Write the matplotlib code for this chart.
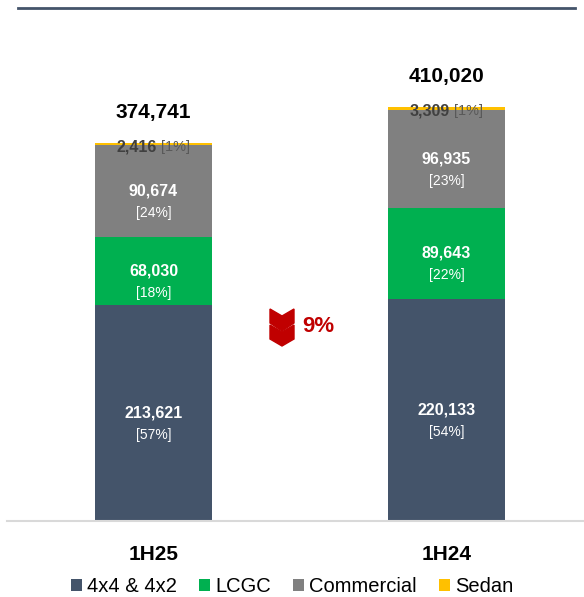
import matplotlib.pyplot as plt
from matplotlib.patches import Polygon
from matplotlib.lines import Line2D

plt.rcParams['font.family'] = ['Liberation Sans', 'DejaVu Sans']

periods = ['1H25', '1H24']
segments = ['4x4 & 4x2', 'LCGC', 'Commercial', 'Sedan']
values = {
    '4x4 & 4x2': [213621, 220133],
    'LCGC': [68030, 89643],
    'Commercial': [90674, 96935],
    'Sedan': [2416, 3309],
}
shares = {
    '4x4 & 4x2': ['[57%]', '[54%]'],
    'LCGC': ['[18%]', '[22%]'],
    'Commercial': ['[24%]', '[23%]'],
    'Sedan': ['[1%]', '[1%]'],
}
totals = [374741, 410020]
change_label = '9%'

colors = {'4x4 & 4x2': '#44546A', 'LCGC': '#00B050',
          'Commercial': '#808080', 'Sedan': '#FFC000'}

W, H = 584, 597
fig = plt.figure(figsize=(W / 100, H / 100), dpi=100)
ax = fig.add_axes([7 / W, (H - 521) / H, 1 - 7 / W, 513 / H])

x = [0, 1]
bottoms = [0, 0]
for seg in segments:
    ax.bar(x, values[seg], width=0.4, bottom=bottoms, color=colors[seg],
           edgecolor='none', label=seg, zorder=2)
    for i in x:
        v = values[seg][i]
        mid = bottoms[i] + v / 2
        if seg == 'Sedan':
            top = bottoms[i] + v
            ax.annotate(f'{v:,}', (i, top), xytext=(3, -4), textcoords='offset pixels',
                        ha='right', va='center', fontsize=11.5, fontweight='bold',
                        color='#404040', zorder=3)
            ax.annotate(shares[seg][i], (i, top), xytext=(7, -4), textcoords='offset pixels',
                        ha='left', va='center', fontsize=10.5, color='#595959', zorder=3)
        else:
            ax.annotate(f'{v:,}', (i, mid), xytext=(0, 0), textcoords='offset pixels',
                        ha='center', va='center', fontsize=11.5, fontweight='bold',
                        color='white')
            ax.annotate(shares[seg][i], (i, mid), xytext=(0, -22), textcoords='offset pixels',
                        ha='center', va='center', fontsize=10, color='white')
        bottoms[i] += v

for i, t in zip(x, totals):
    ax.annotate(f'{t:,}', (i, t), xytext=(0, 30), textcoords='offset pixels',
                ha='center', va='center', fontsize=15, fontweight='bold', color='black')

ax.set_xlim(-0.5, 1.469)
ax.set_ylim(0, 508000)
ax.set_xticks(x)
ax.set_xticklabels(periods, fontsize=15, fontweight='bold')
ax.tick_params(axis='x', length=0, pad=17)
ax.set_yticks([])
for s in ['top', 'left', 'right']:
    ax.spines[s].set_visible(False)
ax.spines['bottom'].set_color('#D9D9D9')
ax.spines['bottom'].set_linewidth(1.5)

# decorative top rule
fig.add_artist(Line2D([18 / W, 575 / W], [(H - 8) / H] * 2, color='#44546A', lw=2))

# double chevron down arrow
def px(pts):
    return [(a / W, (H - b) / H) for a, b in pts]

red = '#C00000'
fig.add_artist(Polygon(px([(270, 309), (282, 316), (294, 309), (294, 323), (282, 331), (270, 323)]),
                       closed=True, color=red, transform=fig.transFigure))
fig.add_artist(Polygon(px([(270, 325), (282, 332), (294, 325), (294, 339), (282, 346), (270, 339)]),
                       closed=True, color=red, transform=fig.transFigure))
fig.text(302 / W, (H - 327) / H, change_label, ha='left', va='center', fontsize=16,
         fontweight='bold', color=red)

handles, labels = ax.get_legend_handles_labels()
fig.legend(handles, labels, loc='center', bbox_to_anchor=(0.5, (H - 587) / H), ncol=4,
           frameon=False, fontsize=14.5, handlelength=0.55, handleheight=0.55,
           handletextpad=0.25, columnspacing=1.1, borderpad=0)

fig.savefig('out.png', dpi=100)
